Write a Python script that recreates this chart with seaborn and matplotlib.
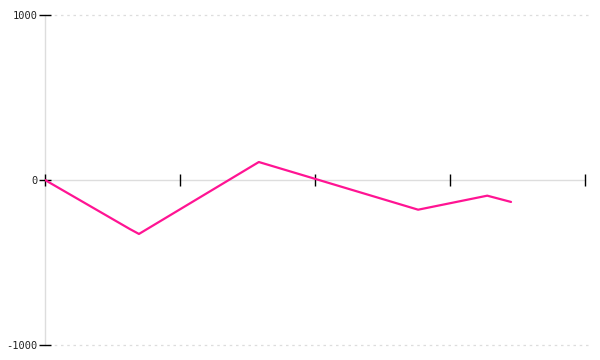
import matplotlib
matplotlib.use("Agg")
import matplotlib.pyplot as plt
import seaborn as sns
import pandas as pd

# Data
x_vals = [0, 15.7, 17.4, 39.6, 69.1, 81.9, 86.3]
y_vals = [0, -297, -327, 109, -180, -95, -133]
y_ticks = [-1000, 0, 1000]
x_ticks = [0, 25, 50, 75, 100]

df = pd.DataFrame({"x": x_vals, "y": y_vals})

sns.set_theme(style="white")
plt.rcParams["font.family"] = ["DejaVu Sans Mono", "DejaVu Sans"]

fig = plt.figure(figsize=(6, 3.6), dpi=100)
ax = fig.add_axes([0.075, 0.0417, 0.9, 0.9166])

for yv in [1000, -1000]:
    ax.plot([0.005, 1.01], [yv, yv], transform=ax.get_yaxis_transform(),
            color="#dddddd", linestyle=(0, (2, 3)), linewidth=0.9, zorder=0, clip_on=False)

sns.lineplot(data=df, x="x", y="y", sort=False, color="#ff1493", linewidth=1.6, ax=ax, zorder=3)

ax.set_xlim(0, 100)
ax.set_ylim(-1000, 1000)
ax.set_xticks(x_ticks)
ax.set_xticklabels([])
ax.set_yticks(y_ticks)
ax.set_yticklabels([str(t) for t in y_ticks], fontsize=7.5, color="#222222")
ax.set_xlabel("")
ax.set_ylabel("")

for s in ["top", "right"]:
    ax.spines[s].set_visible(False)
ax.spines["left"].set_color("#dddddd")
ax.spines["left"].set_linewidth(1)
ax.spines["bottom"].set_position(("data", 0))
ax.spines["bottom"].set_color("#dddddd")
ax.spines["bottom"].set_linewidth(1)
for s in ["left", "bottom"]:
    ax.spines[s].set_zorder(1)
ax.xaxis.set_zorder(2)
ax.yaxis.set_zorder(2)

ax.tick_params(axis="x", direction="inout", length=8, width=1, color="black", bottom=True)
ax.tick_params(axis="y", direction="inout", length=9, width=1, color="black", left=True, pad=1)

fig.savefig("out.png", dpi=100)
